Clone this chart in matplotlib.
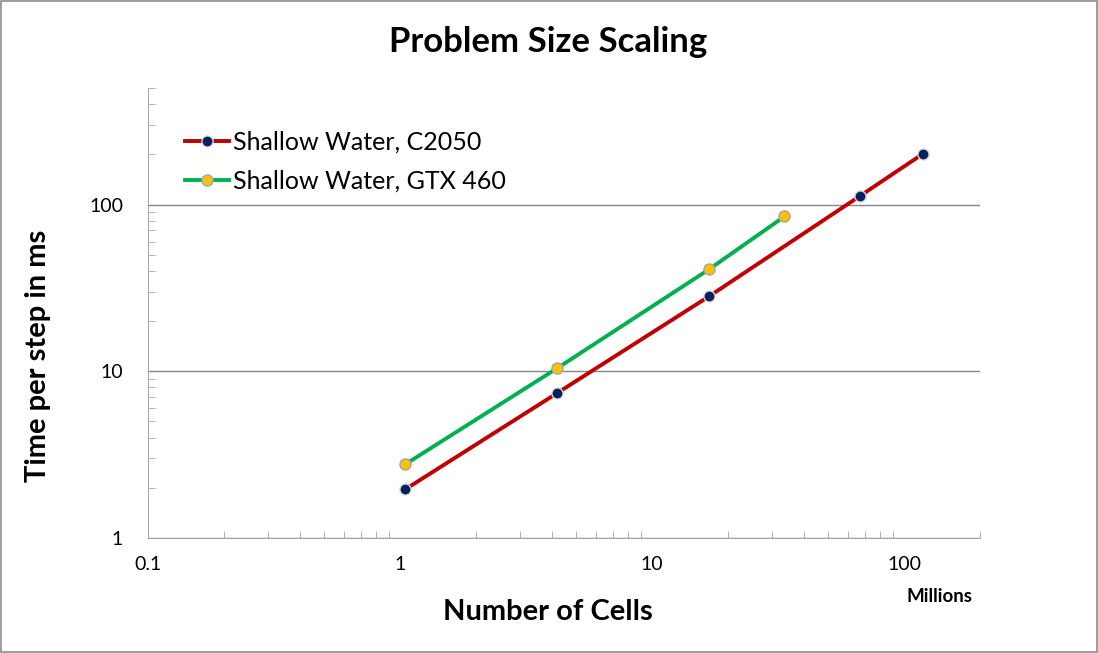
import numpy as np
import matplotlib
matplotlib.use("Agg")
import matplotlib.pyplot as plt
import matplotlib.ticker as ticker

plt.rcParams["font.family"] = ["Lato", "DejaVu Sans"]

# cells in millions, time per step in ms
c2050_cells = [1.05, 4.19, 16.8, 67.1, 119]
c2050_time = [1.96, 7.38, 28.1, 113, 202]
gtx460_cells = [1.05, 4.19, 16.8, 33.5]
gtx460_time = [2.77, 10.4, 40.8, 84.8]

fig = plt.figure(figsize=(10.98, 6.53), dpi=100)
ax = fig.add_axes([148 / 1098, 115 / 653, 832 / 1098, 450 / 653])

ax.plot(c2050_cells, c2050_time, color="#C00000", lw=2.8, marker="o", ms=8,
        mfc="#002060", mec="#D9D9D9", mew=1, label="Shallow Water, C2050", zorder=3)
ax.plot(gtx460_cells, gtx460_time, color="#00B050", lw=2.8, marker="o", ms=8,
        mfc="#FFC000", mec="#A5A5A5", mew=1, label="Shallow Water, GTX 460", zorder=3)

ax.set_xscale("log")
ax.set_yscale("log")
ax.set_xlim(0.1, 200)
ax.set_ylim(1, 500)

ax.xaxis.set_major_locator(ticker.LogLocator(base=10, numticks=10))
ax.xaxis.set_major_formatter(ticker.FuncFormatter(lambda v, p: f"{v:g}"))
ax.yaxis.set_major_locator(ticker.LogLocator(base=10, numticks=10))
ax.yaxis.set_major_formatter(ticker.FuncFormatter(lambda v, p: f"{v:g}"))
ax.xaxis.set_minor_locator(ticker.LogLocator(base=10, subs=np.arange(2, 10), numticks=20))
ax.yaxis.set_minor_locator(ticker.LogLocator(base=10, subs=np.arange(2, 10), numticks=20))
ax.xaxis.set_minor_formatter(ticker.NullFormatter())
ax.yaxis.set_minor_formatter(ticker.NullFormatter())

ax.tick_params(which="both", direction="in", color="#A6A6A6", labelsize=14)
ax.tick_params(which="major", length=0, pad=13)
ax.tick_params(which="minor", length=5)
ax.tick_params(axis="y", which="major", pad=18)

ax.grid(True, which="major", axis="y", color="#878787", lw=1)
for s in ["top", "right"]:
    ax.spines[s].set_visible(False)
for s in ["left", "bottom"]:
    ax.spines[s].set_color("#A6A6A6")

ax.set_title("Problem Size Scaling", fontsize=25, fontweight="bold", pad=26, x=0.481)
ax.set_xlabel("Number of Cells", fontsize=21, fontweight="bold")
ax.set_ylabel("Time per step in ms", fontsize=21, fontweight="bold")
ax.xaxis.set_label_coords(0.481, -0.135)
ax.yaxis.set_label_coords(-0.117, 0.405)
fig.text(940 / 1098, 1 - 596 / 653, "Millions", fontsize=13.5, fontweight="bold",
         ha="center", va="center")

leg = ax.legend(loc="upper left", bbox_to_anchor=(0.018, 0.955), frameon=False,
                fontsize=18, handlelength=1.75, handletextpad=0.15, labelspacing=0.65)

fig.patches.append(plt.Rectangle((0.001, 0.001), 0.998, 0.997, transform=fig.transFigure,
                                 fill=False, ec="#8C8C8C", lw=1.2))

fig.savefig("out.png", dpi=100)
